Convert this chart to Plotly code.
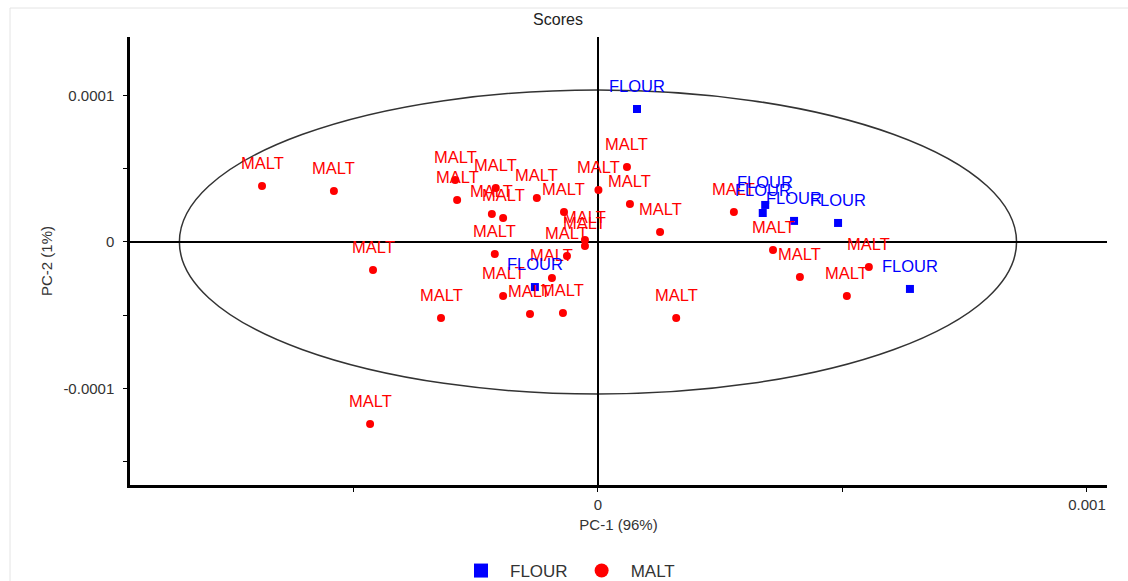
import plotly.graph_objects as go

# ---- data (PC scores) ----
malt_pc1 = [-0.000687, -0.000540, -0.000460, -0.000321, -0.000466,
            -0.000292, -0.000288, -0.000209, -0.000125, -0.000217,
            -0.000194, -0.0000695, 0.000001, 0.0000593, 0.0000654,
            0.000127, -0.0000266, -0.0000266, -0.000211, -0.0000634,
            -0.0000941, -0.000194, -0.000139, -0.0000716, 0.000160,
            0.000278, 0.000358, 0.000413, 0.000554, 0.000509]
malt_pc2 = [0.0000383, 0.0000349, -0.0000191, -0.0000519, -0.0001244,
            0.0000424, 0.0000287, 0.0000369, 0.0000301, 0.0000191,
            0.0000164, 0.0000205, 0.0000355, 0.0000513, 0.0000260,
            0.0000068, 0.0000014, -0.0000027, -0.0000082, -0.0000096,
            -0.0000246, -0.0000369, -0.0000492, -0.0000485, -0.0000519,
            0.0000205, -0.0000055, -0.0000239, -0.0000171, -0.0000369]
flour_pc1 = [0.0000798, -0.000129, 0.000342, 0.000337, 0.000401, 0.000491, 0.000638]
flour_pc2 = [0.0000909, -0.0000308, 0.0000253, 0.0000198, 0.0000144, 0.0000130, -0.0000321]

groups = ["FLOUR", "MALT"]
x_tickvals = [-0.0005, 0, 0.0005, 0.001]
x_ticktext = ["", "0", "", "0.001"]
y_tickvals = [-0.00015, -0.0001, -0.00005, 0, 0.00005, 0.0001]
y_ticktext = ["", "-0.0001", "", "0", "", "0.0001"]

# Hotelling ellipse half-axes
ell_a = 0.000856
ell_b = 0.0001039

RED = "#ff0000"
BLUE = "#0000ff"
LABEL_FONT = "Arial, Liberation Sans, sans-serif"

fig = go.Figure()

fig.add_trace(go.Scatter(x=malt_pc1, y=malt_pc2, mode="markers",
                         marker=dict(color=RED, size=8, symbol="circle"),
                         showlegend=False, hoverinfo="skip"))
fig.add_trace(go.Scatter(x=flour_pc1, y=flour_pc2, mode="markers",
                         marker=dict(color=BLUE, size=8, symbol="square"),
                         showlegend=False, hoverinfo="skip"))

# legend entries
fig.add_trace(go.Scatter(x=[None], y=[None], mode="markers", name=groups[0],
                         marker=dict(color=BLUE, size=14, symbol="square")))
fig.add_trace(go.Scatter(x=[None], y=[None], mode="markers", name=groups[1],
                         marker=dict(color=RED, size=14, symbol="circle")))

annotations = []
for xs, ys, name, col in [(malt_pc1, malt_pc2, "MALT", RED),
                          (flour_pc1, flour_pc2, "FLOUR", BLUE)]:
    for xv, yv in zip(xs, ys):
        annotations.append(dict(x=xv, y=yv, text=name, showarrow=False,
                                yshift=23, font=dict(color=col, size=16.5, family=LABEL_FONT)))

fig.update_layout(
    width=1128, height=581,
    margin=dict(l=130, r=21, t=37, b=96),
    paper_bgcolor="white", plot_bgcolor="white",
    title=dict(text="Scores", x=558 / 1128, xanchor="center", y=1 - 19 / 581, yanchor="middle",
               font=dict(size=16, color="#222", family="Liberation Sans Narrow, Arial Narrow, Arial")),
    font=dict(family=LABEL_FONT, color="#333"),
    xaxis=dict(range=[-0.000957, 0.001041], tickvals=x_tickvals, ticktext=x_ticktext,
               showgrid=False, zeroline=True, zerolinecolor="black", zerolinewidth=1.5,
               showline=True, linecolor="black", linewidth=2.5,
               ticks="outside", ticklen=4, tickcolor="black",
               tickfont=dict(size=15, color="#333"),
               title=dict(text="PC-1 (96%)", font=dict(size=15, color="#333"), standoff=8)),
    yaxis=dict(range=[-0.0001661, 0.0001401], tickvals=y_tickvals, ticktext=y_ticktext,
               showgrid=False, zeroline=True, zerolinecolor="black", zerolinewidth=1.5,
               showline=True, linecolor="black", linewidth=2.5,
               ticks="outside", ticklen=4, tickcolor="black",
               ticklabelstandoff=6,
               tickfont=dict(size=15, color="#333"),
               title=dict(text="PC-2 (1%)", font=dict(size=15, color="#333"), standoff=8)),
    legend=dict(orientation="h", x=452 / 1128, xanchor="left", xref="container",
                y=1 - 571 / 581, yanchor="middle", yref="container",
                font=dict(size=17, color="#333"), itemwidth=48),
    annotations=annotations,
    shapes=[
        dict(type="circle", xref="x", yref="y", x0=-ell_a, x1=ell_a, y0=-ell_b, y1=ell_b,
             line=dict(color="#333", width=1.5), layer="below"),
        dict(type="rect", xref="paper", yref="paper",
             x0=(10 - 130) / 977, x1=(1135 - 130) / 977,
             y0=(485 - 590) / 448, y1=(485 - 8) / 448,
             line=dict(color="#e4e4e4", width=1), layer="below"),
    ],
)

fig.write_html("out.html", config={"displayModeBar": False},
               post_script="document.body.style.margin='0';document.body.style.overflow='hidden';")
